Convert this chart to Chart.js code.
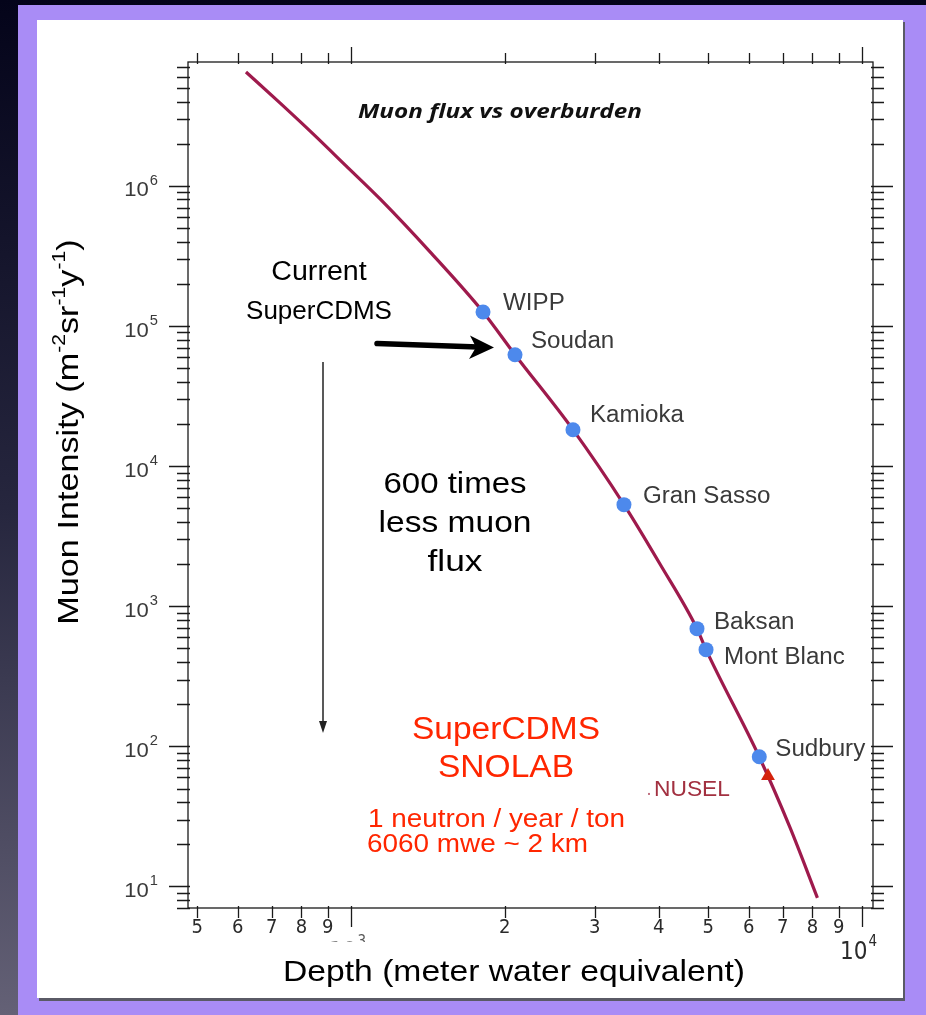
<!DOCTYPE html>
<html><head><meta charset="utf-8">
<script src="https://cdn.jsdelivr.net/npm/chart.js@4/dist/chart.umd.min.js"></script>
<style>html,body{margin:0;padding:0;background:#000;overflow:hidden}canvas{display:block}</style>
</head><body>
<canvas id="c" width="926" height="1015"></canvas>
<script>
// ---------------- DATA ----------------
const curveDepth = [623, 726, 843, 978, 1140, 1428, 1813, 2094, 2719, 3421, 4024, 4754, 4952, 6295, 7228, 8180];
const curveFlux  = [6.5e6, 3.91e6, 2.35e6, 1.39e6, 8.07e5, 3.38e5, 1.26e5, 6.24e4, 1.82e4, 5.31e3, 2.0e3, 692, 490, 84, 26.4, 8.3];
const siteNames = ['WIPP', 'Soudan', 'Kamioka', 'Gran Sasso', 'Baksan', 'Mont Blanc', 'Sudbury'];
const siteDepth = [1813, 2094, 2719, 3421, 4754, 4952, 6295];
const siteFlux  = [1.26e5, 6.24e4, 1.82e4, 5.31e3, 692, 490, 84.2];
const nuselDepth = [6547];
const nuselFlux  = [61.5];
const xMinorTicks  = [500, 600, 700, 800, 900, 2000, 3000, 4000, 5000, 6000, 7000, 8000, 9000];
const xMinorLabels = ['5', '6', '7', '8', '9', '2', '3', '4', '5', '6', '7', '8', '9'];
const xMajorTicks  = [1000, 10000];
const xMajorExp    = ['3', '4'];
const yDecades     = [10, 100, 1000, 10000, 100000, 1000000];
const yDecadeExp   = ['1', '2', '3', '4', '5', '6'];
const xRange = [479.8, 10508];
const yRange = [7.02, 7.66e6];

// ---------------- STYLE / LAYOUT ----------------
const W = 926, H = 1015;
const AREA = {left: 188, top: 62, right: 873, bottom: 908};
const SANS = '"Liberation Sans", Arial, Helvetica, sans-serif';
const NARROW = '"Liberation Sans Narrow", "DejaVu Sans Condensed", sans-serif';
const siteLabelOffset = [[20, -10], [16, -15], [17, -16], [19, -10], [17, -8], [18, 6], [16, -9]];

function txt(ctx, s, x, cy, o) {
  ctx.save();
  ctx.font = (o.style || '') + ' ' + o.size + 'px ' + (o.family || SANS);
  ctx.fillStyle = o.color || '#000';
  ctx.textBaseline = 'alphabetic';
  ctx.textAlign = 'left';
  const w = ctx.measureText(s).width;
  let sx = o.stretch || 1;
  if (o.width) sx = o.width / w;
  const tw = w * sx;
  let x0 = x;
  if (o.align === 'center') x0 = x - tw / 2; else if (o.align === 'right') x0 = x - tw;
  ctx.translate(x0, cy + 0.358 * o.size);
  ctx.scale(sx, 1);
  ctx.fillText(s, 0, 0);
  ctx.restore();
  return tw;
}

function rich(ctx, segs, cx, cy, size, color, stretch, family) {
  family = family || SANS;
  const supSize = size * 0.62;
  ctx.save();
  let total = 0;
  const widths = segs.map(s => {
    ctx.font = (s.sup ? supSize : size) + 'px ' + family;
    const w = ctx.measureText(s.t).width * stretch;
    total += w;
    return w;
  });
  let x = cx - total / 2;
  const base = cy + 0.358 * size;
  ctx.fillStyle = color;
  ctx.textBaseline = 'alphabetic';
  segs.forEach((s, i) => {
    ctx.save();
    ctx.font = (s.sup ? supSize : size) + 'px ' + family;
    ctx.translate(x, s.sup ? base - size * 0.42 : base);
    ctx.scale(stretch, 1);
    ctx.fillText(s.t, 0, 0);
    ctx.restore();
    x += widths[i];
  });
  ctx.restore();
}

const bgPlugin = {
  id: 'bg',
  beforeDraw(chart) {
    const ctx = chart.ctx;
    ctx.save();
    const g = ctx.createLinearGradient(0, 0, 0, H);
    g.addColorStop(0, '#04041a');
    g.addColorStop(0.5, '#26263e');
    g.addColorStop(1, '#646176');
    ctx.fillStyle = g;
    ctx.fillRect(0, 0, W, H);
    ctx.fillStyle = '#a98cf6';
    ctx.fillRect(18, 5, W - 18, H - 5);
    ctx.fillStyle = '#5a5a66';
    ctx.fillRect(39, 22, 866, 979);
    ctx.fillStyle = '#ffffff';
    ctx.fillRect(37, 20, 866, 978);
    ctx.restore();
  }
};

const overlayPlugin = {
  id: 'overlay',
  afterDraw(chart) {
    const ctx = chart.ctx;
    const xs = chart.scales.x, ys = chart.scales.y;
    const a = chart.chartArea;
    ctx.save();
    ctx.strokeStyle = '#1a1a1a';
    ctx.lineWidth = 1.3;
    ctx.strokeRect(a.left, a.top, a.right - a.left, a.bottom - a.top);
    ctx.beginPath();
    const xt = (v, major) => {
      const px = Math.round(xs.getPixelForValue(v)) + 0.5;
      ctx.moveTo(px, a.bottom - 2); ctx.lineTo(px, a.bottom + (major ? 19 : 10));
      ctx.moveTo(px, a.top + 2); ctx.lineTo(px, a.top - (major ? 15 : 9));
    };
    xMinorTicks.forEach(v => xt(v, false));
    xMajorTicks.forEach(v => xt(v, true));
    const yt = (v, major) => {
      const py = Math.round(ys.getPixelForValue(v)) + 0.5;
      if (py < a.top - 0.5 || py > a.bottom + 0.5) return;
      ctx.moveTo(a.left + 2, py); ctx.lineTo(a.left - (major ? 19 : 11), py);
      ctx.moveTo(a.right - 2, py); ctx.lineTo(a.right + (major ? 20 : 11), py);
    };
    [1, 10, 100, 1000, 10000, 100000, 1000000].forEach(d => {
      for (let m = 2; m <= 9; m++) yt(m * d, false);
    });
    yDecades.forEach(v => yt(v, true));
    ctx.stroke();

    // y tick labels
    yDecades.forEach((v, i) => {
      const py = ys.getPixelForValue(v);
      ctx.save();
      ctx.font = '14px ' + SANS;
      const sw = ctx.measureText(yDecadeExp[i]).width * 1.05;
      ctx.restore();
      const right = 158;
      txt(ctx, yDecadeExp[i], right - sw, py - 6, {size: 14, color: '#3a3a3a', stretch: 1.05});
      txt(ctx, '10', right - sw - 1, py + 3, {size: 21, color: '#3a3a3a', align: 'right', stretch: 1.05});
    });
    // x tick labels
    xMinorTicks.forEach((v, i) => {
      const px = xs.getPixelForValue(v);
      txt(ctx, xMinorLabels[i], px, 926, {size: 20, family: NARROW, color: '#2a2a2a', align: 'center'});
    });
    {
      const px = xs.getPixelForValue(xMajorTicks[1]);
      const w = txt(ctx, '10', px - 22, 950, {size: 24, family: NARROW, color: '#2a2a2a'});
      txt(ctx, xMajorExp[1], px - 22 + w + 1, 941, {size: 15, family: NARROW, color: '#2a2a2a'});
    }
    {
      ctx.save();
      ctx.beginPath(); ctx.rect(300, 930, 100, 12); ctx.clip();
      const px = xs.getPixelForValue(xMajorTicks[0]);
      const w = txt(ctx, '10', px - 22, 950, {size: 24, family: NARROW, color: '#888'});
      txt(ctx, xMajorExp[0], px - 22 + w + 1, 941, {size: 15, family: NARROW, color: '#555'});
      ctx.restore();
    }

    // site labels
    siteNames.forEach((n, i) => {
      const px = xs.getPixelForValue(siteDepth[i]);
      const py = ys.getPixelForValue(siteFlux[i]);
      txt(ctx, n, px + siteLabelOffset[i][0], py + siteLabelOffset[i][1], {size: 23, color: '#3a3a3a', stretch: 1.05});
    });
    {
      const px = xs.getPixelForValue(nuselDepth[0]);
      const py = ys.getPixelForValue(nuselFlux[0]);
      txt(ctx, 'NUSEL', px - 114, py + 12, {size: 22, color: '#a23040', width: 76});
      ctx.fillStyle = '#c07080';
      ctx.fillRect(px - 120, py + 17, 2, 2);
    }

    // title
    txt(ctx, 'Muon flux vs overburden', 358, 111.5, {size: 19, style: 'italic bold', family: '"Open Sans", "DejaVu Sans", sans-serif', color: '#111', width: 284});

    // annotations
    txt(ctx, 'Current', 319, 270, {size: 27, color: '#000', align: 'center', stretch: 1.06});
    txt(ctx, 'SuperCDMS', 319, 310, {size: 26, color: '#000', align: 'center'});
    txt(ctx, '600 times', 455, 483, {size: 29, color: '#000', align: 'center', width: 143});
    txt(ctx, 'less muon', 455, 522, {size: 29, color: '#000', align: 'center', width: 153});
    txt(ctx, 'flux', 455, 561, {size: 29, color: '#000', align: 'center', width: 55});
    txt(ctx, 'SuperCDMS', 506, 727.5, {size: 31, color: '#ff2600', align: 'center', width: 188});
    txt(ctx, 'SNOLAB', 506, 766, {size: 31, color: '#ff2600', align: 'center', width: 136});
    txt(ctx, '1 neutron / year / ton', 368, 818, {size: 25, color: '#ff2600', width: 257});
    txt(ctx, '6060 mwe ~ 2 km', 367, 843, {size: 25, color: '#ff2600', width: 221});

    // thick arrow
    ctx.strokeStyle = '#000';
    ctx.fillStyle = '#000';
    ctx.lineWidth = 5.5;
    ctx.lineCap = 'round';
    ctx.beginPath(); ctx.moveTo(377, 343.5); ctx.lineTo(478, 347); ctx.stroke();
    ctx.beginPath();
    ctx.moveTo(494, 347.5); ctx.lineTo(470, 335.5); ctx.lineTo(476, 347.3); ctx.lineTo(469, 359); ctx.closePath();
    ctx.fill();
    // thin arrow
    ctx.lineWidth = 1.5;
    ctx.lineCap = 'butt';
    ctx.strokeStyle = '#222';
    ctx.fillStyle = '#222';
    ctx.beginPath(); ctx.moveTo(323, 362); ctx.lineTo(323, 724); ctx.stroke();
    ctx.beginPath(); ctx.moveTo(323, 733); ctx.lineTo(319, 721); ctx.lineTo(327, 721); ctx.closePath(); ctx.fill();

    // axis titles
    txt(ctx, 'Depth (meter water equivalent)', 514, 970, {size: 30, color: '#000', align: 'center', width: 462});
    ctx.save();
    ctx.translate(67, 432);
    ctx.rotate(-Math.PI / 2);
    rich(ctx, [{t: 'Muon Intensity (m'}, {t: '-2', sup: true}, {t: 'sr'}, {t: '-1', sup: true}, {t: 'y'}, {t: '-1', sup: true}, {t: ')'}], 0, 0, 30, '#000', 1.14);
    ctx.restore();
    ctx.restore();
  }
};

new Chart(document.getElementById('c'), {
  type: 'scatter',
  data: {
    datasets: [
      {label: 'Sites', data: siteDepth.map((d, i) => ({x: d, y: siteFlux[i]})), pointRadius: 7.5, pointHoverRadius: 7.5,
       backgroundColor: '#4d89ec', borderColor: '#4d89ec', borderWidth: 0, order: 1},
      {label: 'NUSEL', data: nuselDepth.map((d, i) => ({x: d, y: nuselFlux[i]})), pointStyle: 'triangle', pointRadius: 8,
       backgroundColor: '#d4220c', borderColor: '#d4220c', borderWidth: 0, order: 2},
      {label: 'Muon flux', data: curveDepth.map((d, i) => ({x: d, y: curveFlux[i]})), showLine: true, pointRadius: 0,
       borderColor: '#9e1a4c', borderWidth: 3.2, cubicInterpolationMode: 'monotone', order: 3}
    ]
  },
  options: {
    responsive: false, animation: false, devicePixelRatio: 1, events: [],
    layout: {padding: {left: AREA.left, top: AREA.top, right: W - AREA.right, bottom: H - AREA.bottom}},
    plugins: {legend: {display: false}, tooltip: {enabled: false}},
    scales: {
      x: {type: 'logarithmic', min: xRange[0], max: xRange[1], display: false},
      y: {type: 'logarithmic', min: yRange[0], max: yRange[1], display: false}
    }
  },
  plugins: [bgPlugin, overlayPlugin]
});
</script>
</body></html>
